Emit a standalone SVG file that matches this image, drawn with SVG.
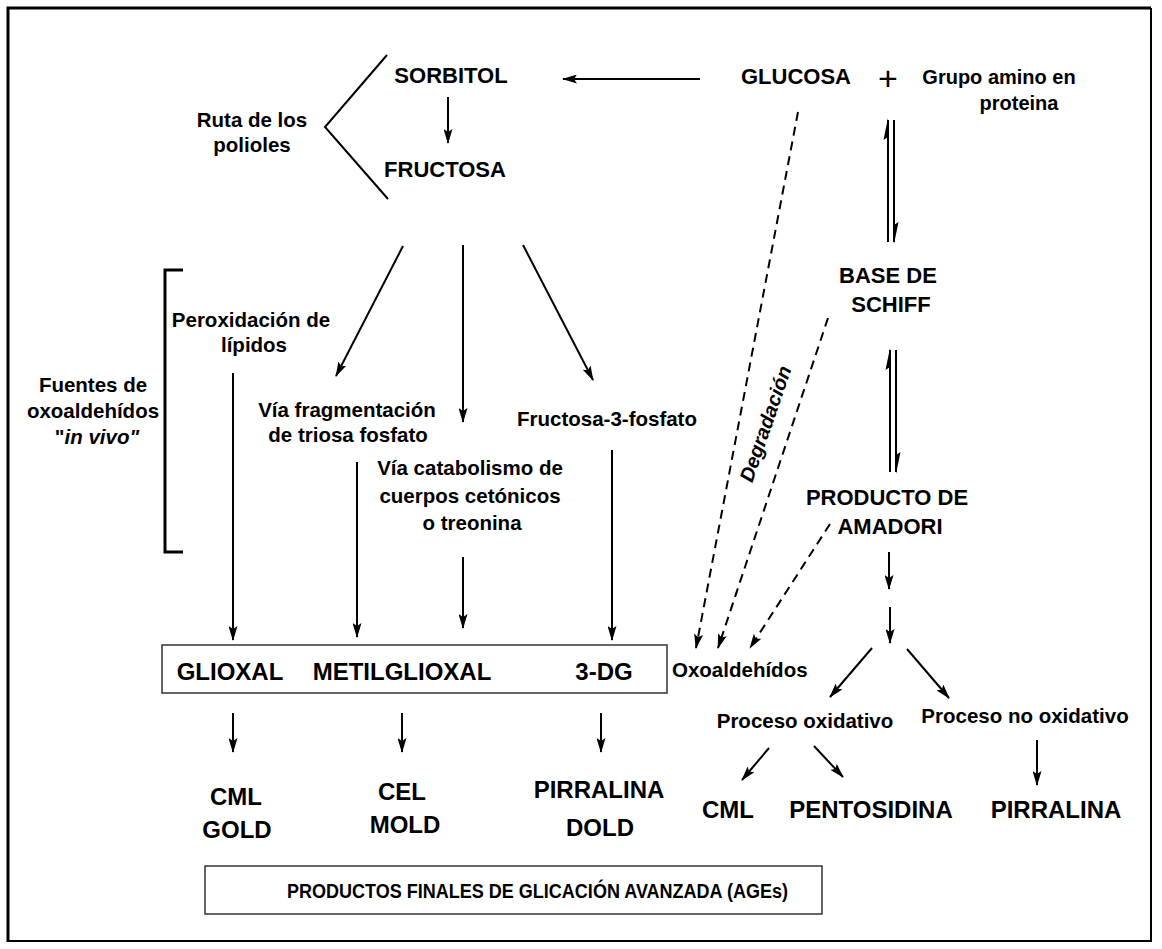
<svg xmlns="http://www.w3.org/2000/svg" width="1162" height="949" viewBox="0 0 1162 949">
<style>
text{font-family:"Liberation Sans",Arial,sans-serif;font-weight:bold;fill:#000}
.n{font-size:22px}
.l{font-size:20.5px}
.s{font-size:20px}
.p{font-size:24px}
.m{text-anchor:middle}
.ln{stroke:#000;stroke-width:2;fill:none}
.ar{stroke:#000;stroke-width:2;fill:none;marker-end:url(#ah)}
.d{stroke-dasharray:9 6}
.box{fill:none;stroke:#333;stroke-width:1.5}
</style>
<defs>
<marker id="ah" markerUnits="userSpaceOnUse" viewBox="0 0 15 9" markerWidth="15" markerHeight="9" refX="14" refY="4.5" orient="auto"><path d="M0,0 L15,4.5 L0,9 L3,4.5 z" fill="#000"/></marker>
</defs>
<rect x="0" y="0" width="1162" height="949" fill="#fff"/>
<g id="frame">
<path d="M8,942 V8 H1151" stroke="#000" stroke-width="3" fill="none"/>
<path d="M1151,8 V941 H8" stroke="#000" stroke-width="2" fill="none"/>
</g>
<g id="sorbitol"><text class="n m" x="451" y="83">SORBITOL</text></g>
<g id="fructosa"><text class="n m" x="445" y="177">FRUCTOSA</text></g>
<g id="ruta"><text class="l m" x="252" y="127">Ruta de los</text><text class="l m" x="252" y="152">polioles</text>
<polyline class="ln" points="387,55 325,127 388,199"/></g>
<g id="glucosa"><text class="n m" x="796" y="84">GLUCOSA</text></g>
<g id="plus"><text x="888" y="90" style="font-size:34px;font-weight:normal" text-anchor="middle">+</text></g>
<g id="grupo"><text class="s m" x="999" y="84">Grupo amino en</text><text class="s m" x="1019" y="110">proteina</text></g>
<g id="schiff"><text class="n m" x="888" y="283">BASE DE</text><text class="n m" x="891" y="312">SCHIFF</text></g>
<g id="amadori"><text class="n m" x="887" y="505">PRODUCTO DE</text><text class="n m" x="890" y="534">AMADORI</text></g>
<g id="peroxidacion"><text class="l m" x="251" y="327">Peroxidación de</text><text class="l m" x="254" y="352">lípidos</text></g>
<g id="fuentes"><text class="l m" x="93" y="392">Fuentes de</text><text class="l m" x="93" y="418">oxoaldehídos</text><text class="l m" x="97" y="444">"<tspan font-style="italic">in vivo"</tspan></text>
<path d="M183,270 H165 V552 H183" stroke="#000" stroke-width="3" fill="none"/></g>
<g id="triosa"><text class="l m" x="347" y="417">Vía fragmentación</text><text class="l m" x="348" y="442">de triosa fosfato</text></g>
<g id="f3f"><text class="l m" x="607" y="426">Fructosa-3-fosfato</text></g>
<g id="catabolismo"><text class="l m" x="470" y="475">Vía catabolismo de</text><text class="l m" x="470" y="503">cuerpos cetónicos</text><text class="l m" x="472" y="530">o treonina</text></g>
<g id="oxoaldehidos"><text class="l" x="672" y="677">Oxoaldehídos</text></g>
<g id="dicarbonilos"><rect class="box" x="162" y="645" width="505" height="48"/>
<text class="p m" x="230" y="680">GLIOXAL</text><text class="p m" x="402" y="680">METILGLIOXAL</text><text class="p m" x="604" y="680">3-DG</text></g>
<g id="cml-gold"><text class="p m" x="236" y="805">CML</text><text class="p m" x="237" y="838">GOLD</text></g>
<g id="cel-mold"><text class="p m" x="402" y="800">CEL</text><text class="p m" x="405" y="833">MOLD</text></g>
<g id="pirralina-dold"><text class="p m" x="599" y="798">PIRRALINA</text><text class="p m" x="600" y="836">DOLD</text></g>
<g id="oxidativo"><text class="l m" x="805" y="728">Proceso oxidativo</text></g>
<g id="nooxidativo"><text class="l m" x="1025" y="723">Proceso no oxidativo</text></g>
<g id="cml2"><text class="p m" x="728" y="818">CML</text></g>
<g id="pentosidina"><text class="p m" x="871" y="818">PENTOSIDINA</text></g>
<g id="pirralina2"><text class="p m" x="1056" y="818">PIRRALINA</text></g>
<g id="ages"><rect class="box" x="205" y="866" width="617" height="48"/><text x="287" y="898" style="font-size:20px" textLength="501" lengthAdjust="spacingAndGlyphs">PRODUCTOS FINALES DE  GLICACIÓN AVANZADA (AGEs)</text></g>
<g id="degradacion"><text class="s m" font-style="italic" transform="translate(772,426) rotate(-71)" x="0" y="0">Degradación</text></g>
<g id="connectors">
<line class="ar" x1="700" y1="79" x2="563" y2="79"/>
<line class="ar" x1="448" y1="97" x2="448" y2="143"/>
<line class="ar" x1="403" y1="246" x2="336" y2="376"/>
<line class="ar" x1="463" y1="245" x2="463" y2="422"/>
<line class="ar" x1="523" y1="245" x2="593" y2="380"/>
<line class="ar" x1="233" y1="373" x2="233" y2="640"/>
<line class="ar" x1="357" y1="462" x2="357" y2="637"/>
<line class="ar" x1="463" y1="557" x2="463" y2="628"/>
<line class="ar" x1="612" y1="450" x2="612" y2="640"/>
<line class="ar" x1="233" y1="713" x2="233" y2="752"/>
<line class="ar" x1="402" y1="713" x2="402" y2="752"/>
<line class="ar" x1="601" y1="713" x2="601" y2="752"/>
<line class="ar d" x1="798" y1="112" x2="696" y2="648"/>
<line class="ar d" x1="828" y1="318" x2="718" y2="648"/>
<line class="ar d" x1="830" y1="524" x2="750" y2="648"/>
<line class="ar" x1="889" y1="552" x2="889" y2="589"/>
<line class="ar" x1="890" y1="607" x2="890" y2="643"/>
<line class="ar" x1="872" y1="648" x2="830" y2="697"/>
<line class="ar" x1="907" y1="649" x2="949" y2="698"/>
<line class="ar" x1="769" y1="748" x2="742" y2="780"/>
<line class="ar" x1="814" y1="746" x2="843" y2="777"/>
<line class="ar" x1="1037" y1="740" x2="1037" y2="785"/>
<line class="ln" x1="888" y1="120" x2="888" y2="242"/>
<polygon points="888,118 883.5,140 888,137"/>
<line class="ln" x1="894" y1="120" x2="894" y2="242"/>
<polygon points="894,244 898.5,222 894,225"/>
<line class="ln" x1="890" y1="350" x2="890" y2="472"/>
<polygon points="890,348 885.5,370 890,367"/>
<line class="ln" x1="896" y1="350" x2="896" y2="472"/>
<polygon points="896,474 900.5,452 896,455"/>
</g>
</svg>
